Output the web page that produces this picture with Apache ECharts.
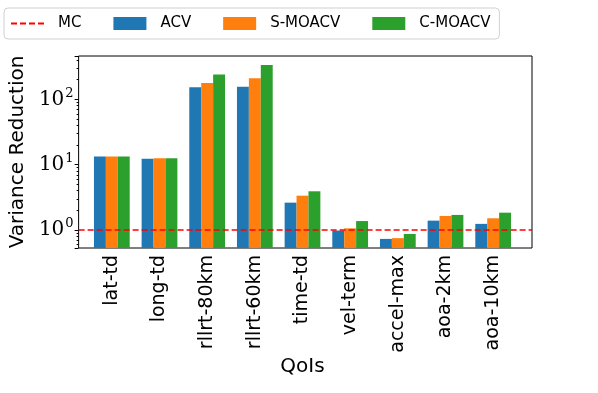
<!DOCTYPE html>
<html>
<head>
<meta charset="utf-8">
<script src="https://cdn.jsdelivr.net/npm/echarts@6/dist/echarts.min.js"></script>
<style>
  html, body { margin: 0; padding: 0; background: #fff; }
  #main { width: 598px; height: 393px; }
</style>
</head>
<body>
<div id="main"></div>
<script>
// QoIs on the x axis
const qois = ['lat-td', 'long-td', 'rllrt-80km', 'rllrt-60km', 'time-td', 'vel-term', 'accel-max', 'aoa-2km', 'aoa-10km'];
// variance reduction per estimator
const acv    = [13.3, 12.3, 153, 156, 2.62, 0.98, 0.73, 1.39, 1.24];
const sMoacv = [13.3, 12.5, 177, 210, 3.35, 1.06, 0.75, 1.64, 1.51];
const cMoacv = [13.3, 12.5, 239, 336, 3.91, 1.37, 0.87, 1.70, 1.84];
// MC reference level
const mcLevel = [1, 1];
const yMin = 0.53, yMax = 460;

const chart = echarts.init(document.getElementById('main'));

// bars drawn from the bottom of the plot (like matplotlib on a log axis)
function barRenderer(slot) {
  return function (params, api) {
    const top = api.coord([api.value(0), api.value(1)]);
    const band = api.size([1, 1])[0];
    const w = band * 0.25;
    const x = top[0] + (slot - 1) * w - w / 2;
    const base = params.coordSys.y + params.coordSys.height;
    return {
      type: 'rect',
      shape: { x: x, y: top[1], width: w, height: base - top[1] },
      style: { fill: api.visual('color') }
    };
  };
}

function powLabel(v) {
  const e = Math.log10(v);
  if (Math.abs(e - Math.round(e)) < 1e-6) return '{b|10}{s|' + Math.round(e) + '}';
  return '';
}

const sans = 'DejaVu Sans';

chart.setOption({
  animation: false,
  legend: {
    left: 4, top: 8,
    padding: [8, 9, 8, 6],
    itemGap: 32,
    itemWidth: 33, itemHeight: 13,
    borderColor: '#d0d0d0', borderWidth: 1, borderRadius: 4,
    textStyle: { fontFamily: sans, fontSize: 15, color: '#000', padding: [0, 0, 0, 9] },
    data: [
      { name: 'MC', itemStyle: { opacity: 0 } },
      { name: 'ACV', icon: 'rect' },
      { name: 'S-MOACV', icon: 'rect' },
      { name: 'C-MOACV', icon: 'rect' }
    ]
  },
  grid: [
    { left: 73, right: 66, top: 56, bottom: 145, show: true, borderColor: '#000', borderWidth: 1 },
    { left: 88, right: 81, top: 56, bottom: 145 }
  ],
  xAxis: [
    { gridIndex: 0, type: 'value', min: 0, max: 1, show: false },
    {
      gridIndex: 1, type: 'category', data: qois,
      axisLine: { show: false },
      axisTick: { alignWithLabel: true, length: 4, lineStyle: { color: '#000' } },
      axisLabel: { rotate: 90, margin: 7, fontFamily: sans, fontSize: 19, color: '#000' },
      name: 'QoIs', nameLocation: 'middle', nameGap: 109,
      nameTextStyle: { fontFamily: sans, fontSize: 20, color: '#000' }
    }
  ],
  yAxis: [
    {
      gridIndex: 0, type: 'log', min: yMin, max: yMax,
      axisLine: { show: false },
      axisTick: { show: true, length: 4, lineStyle: { color: '#000' } },
      minorTick: { show: true, splitNumber: 9, length: 2, lineStyle: { color: '#000' } },
      splitLine: { show: false },
      axisLabel: {
        margin: 5, color: '#000',
        formatter: powLabel,
        rich: {
          b: { fontFamily: 'DejaVu Serif', fontSize: 20, color: '#000' },
          s: { fontFamily: 'DejaVu Serif', fontSize: 13, color: '#000', padding: [0, 0, 12, 1] }
        }
      },
      name: 'Variance Reduction', nameLocation: 'middle', nameGap: 47,
      nameTextStyle: { fontFamily: sans, fontSize: 20, color: '#000' }
    },
    { gridIndex: 1, type: 'log', min: yMin, max: yMax, show: false }
  ],
  series: [
    {
      name: 'MC', type: 'line', xAxisIndex: 0, yAxisIndex: 0,
      data: [[0, mcLevel[0]], [1, mcLevel[1]]],
      symbol: 'none', z: 5,
      itemStyle: { color: '#ff0000' },
      lineStyle: { color: '#ff0000', width: 1.5, type: [6, 3] }
    },
    {
      name: 'ACV', type: 'custom', xAxisIndex: 1, yAxisIndex: 1,
      itemStyle: { color: '#1f77b4' },
      renderItem: barRenderer(0),
      data: acv.map((v, i) => [i, v])
    },
    {
      name: 'S-MOACV', type: 'custom', xAxisIndex: 1, yAxisIndex: 1,
      itemStyle: { color: '#ff7f0e' },
      renderItem: barRenderer(1),
      data: sMoacv.map((v, i) => [i, v])
    },
    {
      name: 'C-MOACV', type: 'custom', xAxisIndex: 1, yAxisIndex: 1,
      itemStyle: { color: '#2ca02c' },
      renderItem: barRenderer(2),
      data: cMoacv.map((v, i) => [i, v])
    }
  ]
});
</script>
</body>
</html>
